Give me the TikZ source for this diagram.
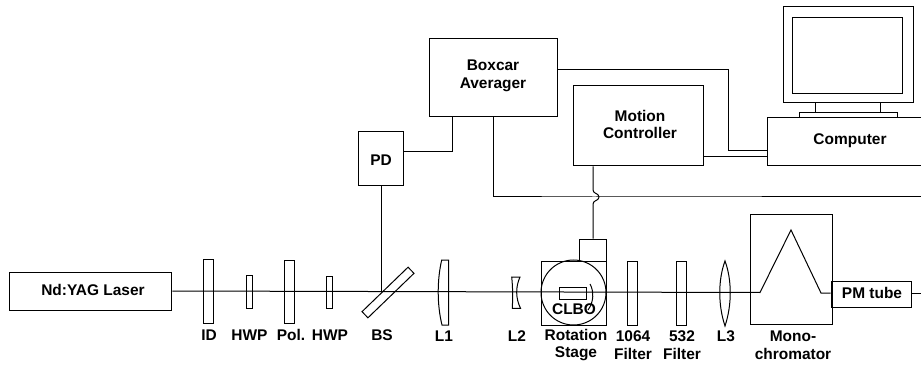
\documentclass[tikz,border=0pt]{standalone}
\usepackage{fontspec}
\setmainfont{Liberation Sans}
\tikzset{
  part/.style = {draw, inner sep = 0pt, line width = 0.75pt},
  optic/.style = {draw, inner sep = 0pt, line width = 0.75pt},
  tag/.style = {inner sep = 0pt, align = center, font = \fontsize{11.6}{13.4}\selectfont\bfseries}
}
\begin{document}
\begin{tikzpicture}[x = 0.75pt, y = -0.75pt, line width = 0.75pt]
\useasboundingbox (0,0) rectangle (921,367);
% boxes
\node[part, minimum width = 122pt, minimum height = 28.5pt] (laser) at (90.5,291) {};
\node[part, minimum width = 96pt, minimum height = 59pt] (boxcar) at (493,77.5) {};
\node[part, minimum width = 34pt, minimum height = 40.5pt] (pd) at (381,159) {};
\node[part, minimum width = 97.5pt, minimum height = 60pt] (motion) at (638,126) {};
\node[part, minimum width = 61.5pt, minimum height = 83pt] (mono) at (791,269.5) {};
\node[part, minimum width = 60pt, minimum height = 19pt] (pmt) at (871,294.5) {};
% computer, runs off the right edge
\coordinate (compnw) at (767,118);
\coordinate (compsw) at (767,166);
\coordinate (compmid) at (767,151);
\coordinate (complow) at (767,157);
\draw (921,118) -- (compnw) -- (compsw) -- (921,166);
\node[part, minimum width = 97.5pt, minimum height = 72pt] (screen) at (848,55) {};
\node[part, minimum width = 82.5pt, minimum height = 57.5pt] (display) at (847.75,55.5) {};
\node[part, minimum width = 73.5pt, minimum height = 3.75pt] (foot) at (848,115.5) {};
\draw (815,103) -- (815,113);
\draw (880,103) -- (880,113);
% optics on the table
\node[optic, minimum width = 7.5pt, minimum height = 48pt] (iris) at (208.5,291) {};
\node[optic, minimum width = 4.5pt, minimum height = 24.75pt] (hwpa) at (249,291.5) {};
\node[optic, minimum width = 7.5pt, minimum height = 47.25pt] (pol) at (289,291.5) {};
\node[optic, minimum width = 4.5pt, minimum height = 24pt] (hwpb) at (329,292) {};
\node[optic, rotate = 44, minimum width = 48pt, minimum height = 6.4pt] (bs) at (388,292.5) {};
\node[optic, minimum width = 48.75pt, minimum height = 48pt] (stage) at (573.5,293) {};
\node[optic, minimum width = 20pt, minimum height = 16.5pt] (drive) at (593,250) {};
\node[optic, circle, minimum size = 48.75pt] (disc) at (573.5,292.5) {};
\node[optic, minimum width = 20.5pt, minimum height = 9.5pt] (crystal) at (573,293.5) {};
\node[optic, minimum width = 8pt, minimum height = 48pt] (filtera) at (632.5,293) {};
\node[optic, minimum width = 7.5pt, minimum height = 48pt] (filterb) at (681,293) {};
% lenses
\draw (448.5,260) -- (448.5,325) -- (442,325) .. controls (437,305) and (437,280) .. (441.7,260) -- cycle;
\draw (511.7,277) -- (520,277) .. controls (515.5,287) and (515.5,298) .. (520.5,308.3) -- (512.3,308.3) .. controls (512.8,298) and (512.8,287) .. (511.7,277) -- cycle;
\draw (725,261) .. controls (718,280) and (718,305) .. (725,326) .. controls (732,305) and (732,280) .. (725,261) -- cycle;
\draw (590,284) .. controls (594,291) and (594,302) .. (588,310);
% beam
\coordinate (monoin) at (760,292.5);
\coordinate (monotop) at (791,230);
\coordinate (monoout) at (821,293);
\coordinate (beamend) at (921,293);
\coordinate (bsmid) at (381,292);
\draw (laser.east) -- (monoin) -- (monotop) -- (monoout) -- (pmt.west |- monoout);
\draw (pmt.east |- beamend) -- (beamend);
% wiring
\coordinate (hop) at (593,197);
\coordinate (hopend) at (921,197);
\coordinate (boxcarturn) at (728,70);
\draw (pd.south) -- (bsmid);
\draw (pd.east |- 0,152) -- (452,152) -- (boxcar.south -| 452,0);
\draw (boxcar.south) -- (493,197) -- (hop) -- (hopend);
\draw (boxcar.east |- boxcarturn) -- (boxcarturn) -- (728,151) -- (compmid);
\draw (motion.east |- complow) -- (complow);
\draw (motion.south -| hop) -- (593,190) .. controls (593,194) and (599,193) .. (599,197) .. controls (599,201) and (593,200) .. (593,204) -- (drive.north);
% labels
\node[tag] (lasertxt) at (93,290) {Nd:YAG Laser};
\node[tag] (boxcartxt) at (493,76) {Boxcar\\Averager};
\node[tag] (pdtxt) at (381,160) {PD};
\node[tag] (motiontxt) at (640,124.5) {Motion\\Controller};
\node[tag] (comptxt) at (850,141) {Computer};
\node[tag] (pmttxt) at (872,293) {PM tube};
\node[tag] (clbotxt) at (574,309) {CLBO};
\node[tag] (idtxt) at (209,335) {ID};
\node[tag] (hwpatxt) at (249.5,335) {HWP};
\node[tag] (poltxt) at (291,335) {Pol.};
\node[tag] (hwpbtxt) at (330,335) {HWP};
\node[tag] (bstxt) at (382,335) {BS};
\node[tag] (lonetxt) at (444,336) {L1};
\node[tag] (ltwotxt) at (517,336) {L2};
\node[tag] (stagetxt) at (576,345) {Rotation\\Stage};
\node[tag] (filteratxt) at (633,345) {1064\\Filter};
\node[tag] (filterbtxt) at (682,345) {532\\Filter};
\node[tag] (lthreetxt) at (726,336) {L3};
\node[tag] (monotxt) at (793,345) {Mono-\\chromator};
\end{tikzpicture}
\end{document}
